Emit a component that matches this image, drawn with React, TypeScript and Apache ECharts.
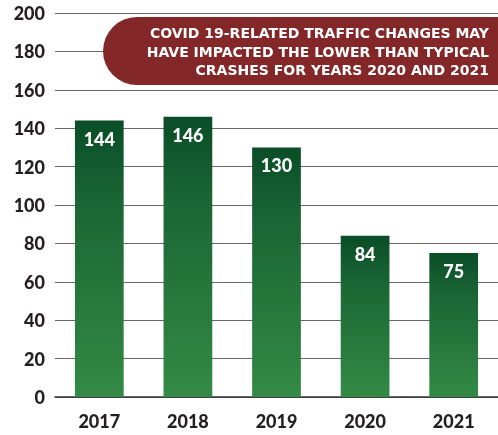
import React, { useEffect, useRef } from "react";
import * as echarts from "echarts";

const years = ["2017", "2018", "2019", "2020", "2021"];
const crashes = [144, 146, 130, 84, 75];
const noteLines = [
  "COVID 19-RELATED TRAFFIC CHANGES MAY",
  "HAVE IMPACTED THE LOWER THAN TYPICAL",
  "CRASHES FOR YEARS 2020 AND 2021",
];

export default function App() {
  const ref = useRef<HTMLDivElement>(null);
  useEffect(() => {
    if (!ref.current) return;
    const chart = echarts.init(ref.current, null, { renderer: "svg" });
    const font = "Lato";
    chart.setOption({
      animation: false,
      grid: { left: 55, right: 0, top: 13, bottom: 38 },
      xAxis: {
        type: "category",
        data: years,
        axisTick: { show: false },
        axisLine: { lineStyle: { color: "#333", width: 1.5 } },
        axisLabel: {
          color: "#231f20",
          fontFamily: font,
          fontWeight: 900,
          fontSize: 18,
          margin: 15,
        },
      },
      yAxis: {
        type: "value",
        min: 0,
        max: 200,
        interval: 20,
        axisLine: { show: false },
        axisTick: { show: false },
        axisLabel: {
          color: "#231f20",
          fontFamily: font,
          fontWeight: 900,
          fontSize: 18,
          margin: 10,
        },
        splitLine: { lineStyle: { color: "#666", width: 1.2 } },
      },
      series: [
        {
          type: "bar",
          data: crashes,
          barWidth: "55%",
          itemStyle: {
            color: new echarts.graphic.LinearGradient(0, 0, 0, 1, [
              { offset: 0, color: "#0a4d27" },
              { offset: 0.3, color: "#1b6634" },
              { offset: 1, color: "#338a45" },
            ]),
          },
          label: {
            show: true,
            position: "insideTop",
            distance: 9,
            color: "#fff",
            fontFamily: font,
            fontWeight: 900,
            fontSize: 18,
          },
        },
      ],
      graphic: [
        {
          type: "rect",
          x: 103,
          y: 17,
          shape: { x: 0, y: 0, width: 400, height: 68, r: [34, 0, 0, 34] },
          style: { fill: "#842729" },
          z: 10,
        },
        {
          type: "text",
          x: 489,
          y: 24,
          z: 11,
          style: {
            text: noteLines.join("\n"),
            fill: "#fff",
            font: `bold 14px "DejaVu Sans"`,
            align: "right",
            verticalAlign: "top",
            lineHeight: 18.5,
          },
        },
      ],
    });
    return () => chart.dispose();
  }, []);
  return (
    <div
      ref={ref}
      style={{ position: "fixed", left: 0, top: 0, width: 498, height: 435 }}
    />
  );
}
